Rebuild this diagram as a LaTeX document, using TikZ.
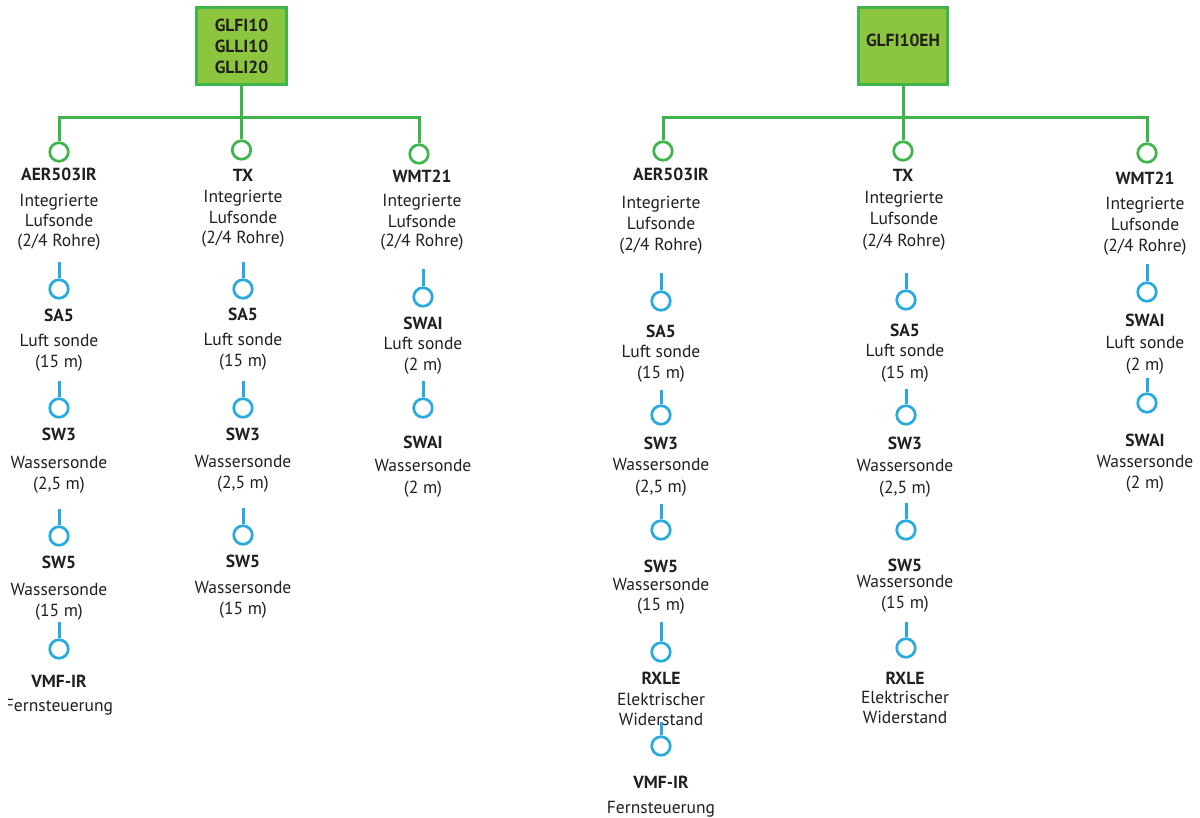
\documentclass[tikz,border=0pt]{standalone}
\usepackage{fontspec}
\setmainfont{PT Sans}
\definecolor{gfill}{HTML}{8CC63F}
\definecolor{gline}{HTML}{3DB54A}
\definecolor{bline}{HTML}{27AAE1}
\definecolor{txtc}{HTML}{231F20}
\newcommand\tl[4]{\node[txt] (#1) at (#2,#3) {#4};}
\newcommand\tb[4]{\node[txt,font=\fontsize{17.5}{18}\selectfont\bfseries] (#1) at (#2,#3) {#4};}
\begin{document}
\begin{tikzpicture}[x=1pt,y=-1pt,
  txt/.style={anchor=base,yshift=-6pt,inner sep=0pt,text=txtc,font=\fontsize{17.5}{18}\selectfont},
  gbox/.style={draw=gline,fill=gfill,line width=3pt,inner sep=0pt,text=txtc,
    font=\fontsize{17.5}{21}\selectfont\bfseries,align=center},
  gl/.style={draw=gline,line width=3pt},
  bl/.style={draw=bline,line width=3pt},
  gc/.style={circle,draw=gline,line width=2.7pt,minimum size=18.5pt,inner sep=0pt,fill=white},
  bc/.style={circle,draw=bline,line width=2.7pt,minimum size=18.5pt,inner sep=0pt,fill=white}]
\useasboundingbox (0,0) rectangle (1200,817);
\fill[white] (0,0) rectangle (1200,817);

% ================= left tree =================
\node[gbox,minimum width=90pt,minimum height=77pt] (boxA) at (241.5,46) {GLFI10\\GLLI10\\GLLI20};
\coordinate (jA) at (241.5,117);
\node[gc] (gA1) at (59,152) {};
\node[gc] (gA2) at (241.5,150) {};
\node[gc] (gA3) at (419,154) {};
\draw[gl] (boxA.south) -- (gA2.north);
\draw[gl] (gA1.north) -- (gA1.north |- jA) -- (gA3.north |- jA) -- (gA3.north);

\tb{a1h}{59}{174}{AER503IR}
\tl{a1a}{59}{200}{Integrierte}
\tl{a1b}{59}{220}{Lufsonde}
\tl{a1c}{59}{240}{(2/4 Rohre)}

\tb{a2h}{243}{175}{TX}
\tl{a2a}{243}{196}{Integrierte}
\tl{a2b}{243}{217}{Lufsonde}
\tl{a2c}{243}{237}{(2/4 Rohre)}

\tb{a3h}{422}{176}{WMT21}
\tl{a3a}{422}{200}{Integrierte}
\tl{a3b}{422}{221}{Lufsonde}
\tl{a3c}{422}{240}{(2/4 Rohre)}

% column A1
\coordinate (sA11) at (59,262); \node[bc] (cA11) at (59,289) {}; \draw[bl] (sA11) -- (cA11.north);
\tb{a11h}{59}{315}{SA5} \tl{a11a}{59}{340}{Luft sonde} \tl{a11b}{59}{361}{(15 m)}
\coordinate (sA12) at (59,381); \node[bc] (cA12) at (59,408) {}; \draw[bl] (sA12) -- (cA12.north);
\tb{a12h}{59}{434}{SW3} \tl{a12a}{59}{462}{Wassersonde} \tl{a12b}{59}{483}{(2,5 m)}
\coordinate (sA13) at (59,509); \node[bc] (cA13) at (59,536) {}; \draw[bl] (sA13) -- (cA13.north);
\tb{a13h}{59}{562}{SW5} \tl{a13a}{59}{589}{Wassersonde} \tl{a13b}{59}{610}{(15 m)}
\coordinate (sA14) at (59,622); \node[bc] (cA14) at (59,649) {}; \draw[bl] (sA14) -- (cA14.north);
\tb{a14h}{59}{681}{VMF-IR}
\begin{scope}
\clip (8,690) rectangle (200,720);
\tl{a14a}{59}{705}{Fernsteuerung}
\end{scope}

% column A2
\coordinate (sA21) at (243,262); \node[bc] (cA21) at (243,289) {}; \draw[bl] (sA21) -- (cA21.north);
\tb{a21h}{243}{314}{SA5} \tl{a21a}{243}{339}{Luft sonde} \tl{a21b}{243}{360}{(15 m)}
\coordinate (sA22) at (243,381); \node[bc] (cA22) at (243,408) {}; \draw[bl] (sA22) -- (cA22.north);
\tb{a22h}{243}{434}{SW3} \tl{a22a}{243}{461}{Wassersonde} \tl{a22b}{243}{482}{(2,5 m)}
\coordinate (sA23) at (243,508); \node[bc] (cA23) at (243,535) {}; \draw[bl] (sA23) -- (cA23.north);
\tb{a23h}{243}{561}{SW5} \tl{a23a}{243}{587}{Wassersonde} \tl{a23b}{243}{608}{(15 m)}

% column A3
\coordinate (sA31) at (423,269); \node[bc] (cA31) at (423,297) {}; \draw[bl] (sA31) -- (cA31.north);
\tb{a31h}{423}{323}{SWAI} \tl{a31a}{423}{343}{Luft sonde} \tl{a31b}{423}{364}{(2 m)}
\coordinate (sA32) at (423,381); \node[bc] (cA32) at (423,408) {}; \draw[bl] (sA32) -- (cA32.north);
\tb{a32h}{423}{442}{SWAI} \tl{a32a}{423}{465}{Wassersonde} \tl{a32b}{423}{487}{(2 m)}

% ================= right tree =================
\node[gbox,minimum width=89pt,minimum height=77pt] (boxB) at (903,46) {};
\node[txt,font=\fontsize{17.5}{18}\selectfont\bfseries] (boxBt) at (903,40) {GLFI10EH};
\coordinate (jB) at (903,117);
\node[gc] (gB1) at (663,151) {};
\node[gc] (gB2) at (903,151) {};
\node[gc] (gB3) at (1147,153) {};
\draw[gl] (boxB.south) -- (gB2.north);
\draw[gl] (gB1.north) -- (gB1.north |- jB) -- (gB3.north |- jB) -- (gB3.north);

\tb{b1h}{671}{174}{AER503IR}
\tl{b1a}{661}{202}{Integrierte}
\tl{b1b}{661}{223}{Lufsonde}
\tl{b1c}{661}{244}{(2/4 Rohre)}

\tb{b2h}{903}{175}{TX}
\tl{b2a}{904}{197}{Integrierte}
\tl{b2b}{904}{218}{Lufsonde}
\tl{b2c}{904}{240}{(2/4 Rohre)}

\tb{b3h}{1145}{178}{WMT21}
\tl{b3a}{1145}{203}{Integrierte}
\tl{b3b}{1145}{224}{Lufsonde}
\tl{b3c}{1145}{245}{(2/4 Rohre)}

% column B1
\coordinate (sB11) at (661,273); \node[bc] (cB11) at (661,301) {}; \draw[bl] (sB11) -- (cB11.north);
\tb{b11h}{661}{331}{SA5} \tl{b11a}{661}{351}{Luft sonde} \tl{b11b}{661}{372}{(15 m)}
\coordinate (sB12) at (661,390); \node[bc] (cB12) at (661,415) {}; \draw[bl] (sB12) -- (cB12.north);
\tb{b12h}{661}{443}{SW3} \tl{b12a}{661}{464}{Wassersonde} \tl{b12b}{661}{486}{(2,5 m)}
\coordinate (sB13) at (661,504); \node[bc] (cB13) at (661,530) {}; \draw[bl] (sB13) -- (cB13.north);
\tb{b13h}{661}{566}{SW5} \tl{b13a}{661}{584}{Wassersonde} \tl{b13b}{661}{604}{(15 m)}
\coordinate (sB14) at (661,622); \node[bc] (cB14) at (661,652) {}; \draw[bl] (sB14) -- (cB14.north);
\tb{b14h}{661}{678}{RXLE} \tl{b14a}{661}{699}{Elektrischer} \tl{b14b}{661}{719}{Widerstand}
\coordinate (sB15) at (661,722); \node[bc] (cB15) at (661,746) {}; \draw[bl] (sB15) -- (cB15.north);
\tb{b15h}{661}{782}{VMF-IR} \tl{b15a}{661}{807}{Fernsteuerung}

% column B2
\coordinate (sB21) at (906,273); \node[bc] (cB21) at (906,300) {}; \draw[bl] (sB21) -- (cB21.north);
\tb{b21h}{905}{330}{SA5} \tl{b21a}{905}{350}{Luft sonde} \tl{b21b}{905}{372}{(15 m)}
\coordinate (sB22) at (906,389); \node[bc] (cB22) at (906,415) {}; \draw[bl] (sB22) -- (cB22.north);
\tb{b22h}{905}{443}{SW3} \tl{b22a}{905}{465}{Wassersonde} \tl{b22b}{905}{487}{(2,5 m)}
\coordinate (sB23) at (906,503); \node[bc] (cB23) at (906,530) {}; \draw[bl] (sB23) -- (cB23.north);
\tb{b23h}{905}{565}{SW5} \tl{b23a}{905}{581}{Wassersonde} \tl{b23b}{905}{602}{(15 m)}
\coordinate (sB24) at (906,622); \node[bc] (cB24) at (906,648) {}; \draw[bl] (sB24) -- (cB24.north);
\tb{b24h}{905}{678}{RXLE} \tl{b24a}{905}{697}{Elektrischer} \tl{b24b}{905}{717}{Widerstand}

% column B3
\coordinate (sB31) at (1147,264); \node[bc] (cB31) at (1147,292) {}; \draw[bl] (sB31) -- (cB31.north);
\tb{b31h}{1145}{320}{SWAI} \tl{b31a}{1145}{342}{Luft sonde} \tl{b31b}{1145}{364}{(2 m)}
\coordinate (sB32) at (1147,378); \node[bc] (cB32) at (1147,403) {}; \draw[bl] (sB32) -- (cB32.north);
\tb{b32h}{1145}{440}{SWAI} \tl{b32a}{1145}{461}{Wassersonde} \tl{b32b}{1145}{482}{(2 m)}
\end{tikzpicture}
\end{document}
